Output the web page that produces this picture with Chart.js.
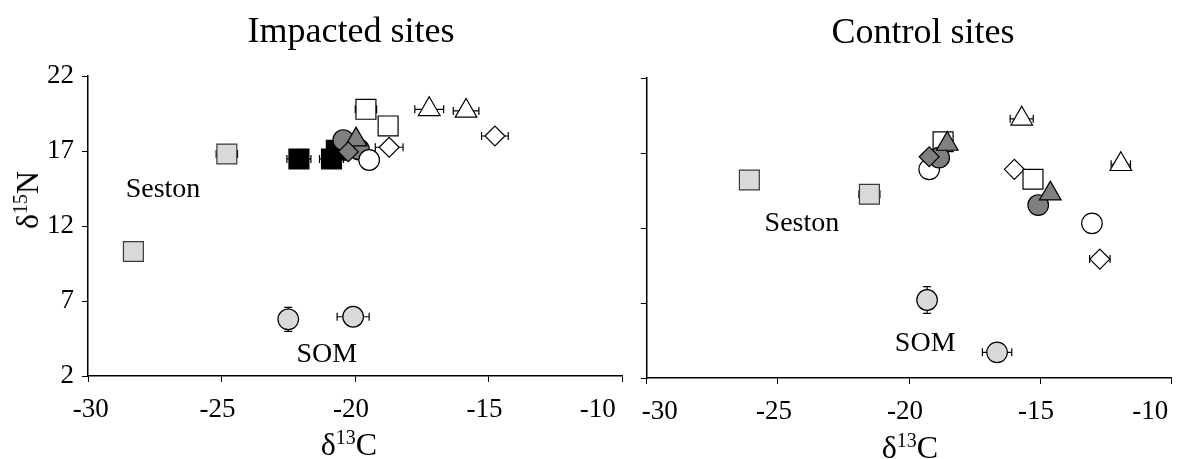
<!DOCTYPE html>
<html lang="en">
<head>
  <meta charset="UTF-8" />
  <title>Impacted and control sites</title>
  <script src="https://cdn.jsdelivr.net/npm/chart.js"></script>
  <style>
    html, body { margin: 0; padding: 0; background: #fff; overflow: hidden; }
    body { width: 1180px; height: 459px; position: relative; font-family: "Liberation Serif", "Times New Roman", serif; color: #000; }
    canvas { position: absolute; top: 0; }
    #impacted { left: 0; }
    #control { left: 600px; }
    .lbl { position: absolute; white-space: nowrap; line-height: 1; }
    .panelTitle { font-size: 36px; transform: translateX(-50%); }
    .axisTitle { font-size: 32px; }
    .axisTitle sup { font-size: 20px; vertical-align: baseline; position: relative; top: -11px; }
  </style>
</head>
<body>
  <canvas id="impacted" width="700" height="459"></canvas>
  <canvas id="control" width="618" height="459"></canvas>

  <div class="lbl panelTitle" style="left:351px; top:12px;">Impacted sites</div>
  <div class="lbl panelTitle" style="left:923px; top:13px;">Control sites</div>
  <div class="lbl axisTitle" style="left:27px; top:200px; transform: translate(-50%,-50%) rotate(-90deg);">&delta;<sup>15</sup>N</div>
  <div class="lbl axisTitle" style="left:349px; top:428px; transform: translateX(-50%);">&delta;<sup>13</sup>C</div>
  <div class="lbl axisTitle" style="left:910px; top:431px; transform: translateX(-50%);">&delta;<sup>13</sup>C</div>

  <script>
    // axes
    const xTicks = [-30, -25, -20, -15, -10];
    const xTickLabels = ['-30', '-25', '-20', '-15', '-10'];
    const yTicks = [2, 7, 12, 17, 22];
    const yTickLabels = ['2', '7', '12', '17', '22'];

    // impacted sites: [d13C, d15N, xErr, yErr]
    const impSeston = [[-28.3, 10.3, 0, 0], [-24.8, 16.8, 0.4, 0]];
    const impBlackSquare = [[-22.1, 16.47, 0.45, 0], [-20.88, 16.47, 0.45, 0], [-20.7, 17.05, 0, 0]];
    const impDarkCircle = [[-20.44, 17.73, 0, 0], [-19.85, 17.1, 0, 0]];
    const impDarkTriangle = [[-19.96, 17.76, 0, 0]];
    const impDarkDiamond = [[-20.25, 16.95, 0, 0]];
    const impWhiteCircle = [[-19.47, 16.4, 0, 0]];
    const impWhiteSquare = [[-19.59, 19.78, 0.4, 0], [-18.76, 18.67, 0, 0]];
    const impWhiteTriangle = [[-17.22, 19.78, 0.54, 0], [-15.84, 19.67, 0.48, 0]];
    const impWhiteDiamond = [[-18.72, 17.25, 0.52, 0], [-14.76, 18.0, 0.5, 0]];
    const impSom = [[-22.5, 5.78, 0, 0.8], [-20.07, 5.95, 0.6, 0]];

    // control sites
    const ctlSeston = [[-26.09, 15.2, 0, 0], [-21.51, 14.25, 0.4, 0]];
    const ctlWhiteTriangle = [[-15.7, 19.28, 0.44, 0], [-11.92, 16.25, 0.37, 0]];
    const ctlWhiteSquare = [[-18.7, 17.75, 0, 0], [-15.27, 15.25, 0, 0]];
    const ctlDarkTriangle = [[-18.54, 17.6, 0, 0], [-14.61, 14.29, 0, 0]];
    const ctlDarkCircle = [[-18.85, 16.69, 0, 0], [-15.07, 13.53, 0, 0]];
    const ctlDarkDiamond = [[-19.23, 16.75, 0, 0]];
    const ctlWhiteCircle = [[-19.23, 15.91, 0, 0], [-13.02, 12.31, 0, 0]];
    const ctlWhiteDiamond = [[-15.98, 15.91, 0, 0], [-12.72, 9.93, 0.39, 0]];
    const ctlSom = [[-19.31, 7.2, 0, 0.89], [-16.64, 3.71, 0.56, 0]];

    // text labels in the plots: [text, d13C, d15N]
    const impLabels = [['Seston', -28.59, 13.93], ['SOM', -22.19, 2.95]];
    const ctlLabels = [['Seston', -25.51, 11.82], ['SOM', -20.54, 3.8]];

    const marker = {
      seston:        { style: 'rect',     r: 14.1, fill: '#d9d9d9', line: '#3a3a3a' },
      blackSquare:   { style: 'rect',     r: 14.1, fill: '#000000', line: '#000000' },
      whiteSquare:   { style: 'rect',     r: 14.1, fill: '#ffffff', line: '#000000' },
      darkCircle:    { style: 'circle',   r: 10.3, fill: '#7f7f7f', line: '#000000' },
      whiteCircle:   { style: 'circle',   r: 10.3, fill: '#ffffff', line: '#000000' },
      som:           { style: 'circle',   r: 10.3, fill: '#d9d9d9', line: '#000000' },
      darkTriangle:  { style: 'triangle', r: 12.5, fill: '#7f7f7f', line: '#000000' },
      whiteTriangle: { style: 'triangle', r: 12.5, fill: '#ffffff', line: '#000000' },
      darkDiamond:   { style: 'rectRot',  r: 10,   fill: '#7f7f7f', line: '#000000' },
      whiteDiamond:  { style: 'rectRot',  r: 10,   fill: '#ffffff', line: '#000000' }
    };

    const tickFont = { family: 'Liberation Serif', size: 27 };

    function serie(rows, kind) {
      const m = marker[kind];
      return {
        data: rows.map(r => ({ x: r[0], y: r[1], xErr: r[2], yErr: r[3] })),
        pointStyle: m.style,
        pointRadius: m.r,
        pointBackgroundColor: m.fill,
        pointBorderColor: m.line,
        pointBorderWidth: 1.2,
        showLine: false
      };
    }

    // error bars drawn behind the markers
    const errorBars = {
      id: 'errorBars',
      beforeDatasetsDraw(chart) {
        const { ctx, scales: { x, y } } = chart;
        const cap = 4;
        ctx.save();
        ctx.strokeStyle = '#000';
        ctx.lineWidth = 1.2;
        chart.data.datasets.forEach(ds => {
          ds.data.forEach(p => {
            const px = x.getPixelForValue(p.x);
            const py = y.getPixelForValue(p.y);
            ctx.beginPath();
            if (p.xErr) {
              const a = x.getPixelForValue(p.x - p.xErr);
              const b = x.getPixelForValue(p.x + p.xErr);
              ctx.moveTo(a, py); ctx.lineTo(b, py);
              ctx.moveTo(a, py - cap); ctx.lineTo(a, py + cap);
              ctx.moveTo(b, py - cap); ctx.lineTo(b, py + cap);
            }
            if (p.yErr) {
              const a = y.getPixelForValue(p.y - p.yErr);
              const b = y.getPixelForValue(p.y + p.yErr);
              ctx.moveTo(px, a); ctx.lineTo(px, b);
              ctx.moveTo(px - cap, a); ctx.lineTo(px + cap, a);
              ctx.moveTo(px - cap, b); ctx.lineTo(px + cap, b);
            }
            ctx.stroke();
          });
        });
        ctx.restore();
      }
    };

    const siteLabels = {
      id: 'siteLabels',
      afterDatasetsDraw(chart, args, opts) {
        const { ctx, scales: { x, y } } = chart;
        ctx.save();
        ctx.font = '28px "Liberation Serif", serif';
        ctx.fillStyle = '#000';
        ctx.textAlign = 'left';
        ctx.textBaseline = 'alphabetic';
        (opts.items || []).forEach(l => {
          ctx.fillText(l[0], x.getPixelForValue(l[1]), y.getPixelForValue(l[2]));
        });
        ctx.restore();
      }
    };

    function panelOptions(cfg) {
      return {
        responsive: false,
        animation: false,
        layout: { padding: { left: 0, right: cfg.padRight, top: cfg.top, bottom: 0 } },
        plugins: {
          legend: { display: false },
          tooltip: { enabled: false },
          title: { display: false },
          siteLabels: { items: cfg.labels }
        },
        scales: {
          x: {
            type: 'linear', min: -30, max: -10,
            afterBuildTicks: s => { s.ticks = xTicks.map(v => ({ value: v })); },
            afterFit: s => { s.height = 459 - cfg.bottom; },
            ticks: {
              font: tickFont, color: '#000', padding: 12, labelOffset: -4,
              maxRotation: 0, autoSkip: false,
              callback: (v) => {
                const i = xTicks.indexOf(v);
                let s = xTickLabels[i];
                if (i === 0) s = ' '.repeat(cfg.lead) + s;
                if (i === xTicks.length - 1) s = s + ' '.repeat(cfg.trail);
                return s;
              }
            },
            grid: { drawOnChartArea: false, drawTicks: true, tickLength: 6, color: '#000', lineWidth: 1 },
            border: { display: true, color: '#000', width: 1.5 }
          },
          y: {
            type: 'linear', min: 2, max: 22,
            afterBuildTicks: s => { s.ticks = yTicks.map(v => ({ value: v })); },
            afterFit: s => { s.width = cfg.yWidth; },
            ticks: {
              display: cfg.showY, font: tickFont, color: '#000', padding: 8,
              callback: (v) => yTickLabels[yTicks.indexOf(v)]
            },
            grid: { drawOnChartArea: false, drawTicks: true, tickLength: 6, color: '#000', lineWidth: 1 },
            border: { display: true, color: '#000', width: 1.5 }
          }
        }
      };
    }

    // first dataset is drawn on top
    new Chart(document.getElementById('impacted'), {
      type: 'scatter',
      data: {
        datasets: [
          serie(impWhiteCircle, 'whiteCircle'),
          serie(impDarkDiamond, 'darkDiamond'),
          serie(impDarkTriangle, 'darkTriangle'),
          serie(impDarkCircle, 'darkCircle'),
          serie(impBlackSquare, 'blackSquare'),
          serie(impWhiteSquare, 'whiteSquare'),
          serie(impWhiteDiamond, 'whiteDiamond'),
          serie(impWhiteTriangle, 'whiteTriangle'),
          serie(impSeston, 'seston'),
          serie(impSom, 'som')
        ]
      },
      options: panelOptions({ padRight: 78, top: 76, bottom: 376, yWidth: 88, showY: true, lead: 2, trail: 6, labels: impLabels }),
      plugins: [errorBars, siteLabels]
    });

    new Chart(document.getElementById('control'), {
      type: 'scatter',
      data: {
        datasets: [
          serie(ctlDarkDiamond, 'darkDiamond'),
          serie(ctlDarkTriangle, 'darkTriangle'),
          serie(ctlDarkCircle, 'darkCircle'),
          serie(ctlWhiteCircle, 'whiteCircle'),
          serie(ctlWhiteSquare, 'whiteSquare'),
          serie(ctlWhiteDiamond, 'whiteDiamond'),
          serie(ctlWhiteTriangle, 'whiteTriangle'),
          serie(ctlSeston, 'seston'),
          serie(ctlSom, 'som')
        ]
      },
      options: panelOptions({ padRight: 40, top: 78, bottom: 378, yWidth: 44, showY: false, lead: 5, trail: 5, labels: ctlLabels }),
      plugins: [errorBars, siteLabels]
    });
  </script>
</body>
</html>
